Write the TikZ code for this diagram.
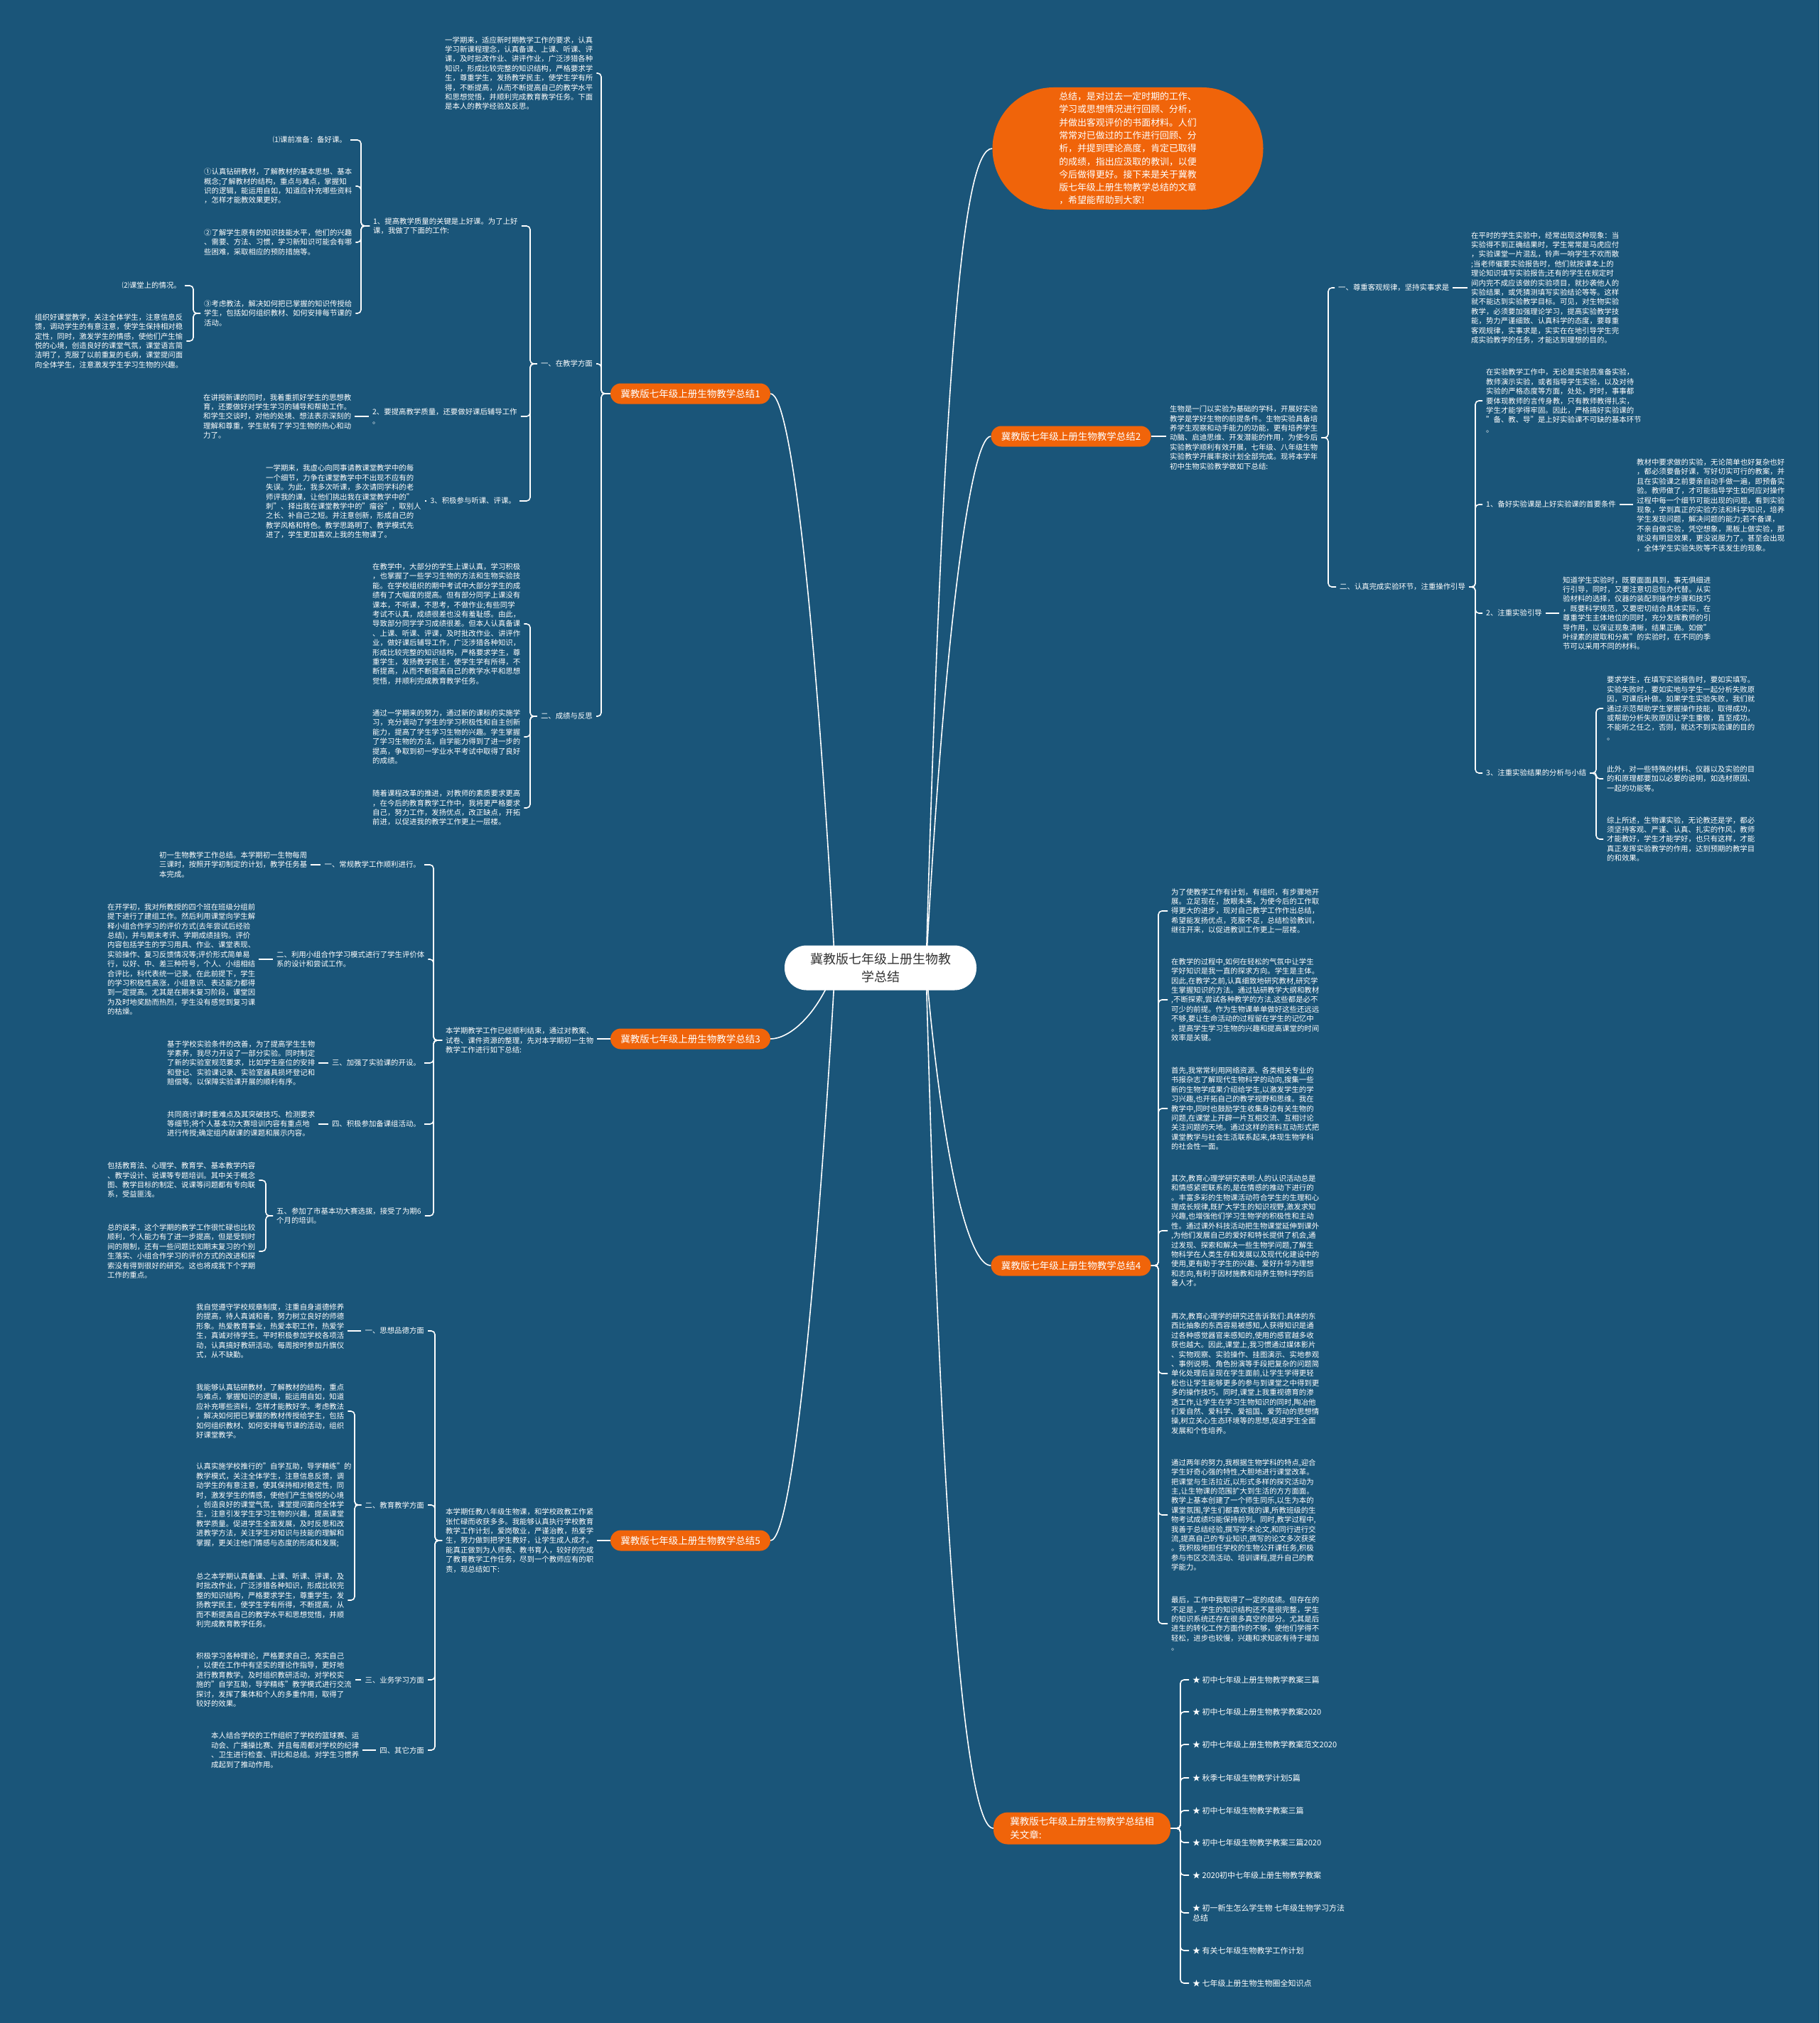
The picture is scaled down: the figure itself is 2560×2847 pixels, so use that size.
\documentclass[tikz,border=0pt]{standalone}
\usepackage{fontspec}
\setmainfont{Noto Sans CJK SC}
\pgfdeclarelayer{back}
\pgfdeclarelayer{edges}
\pgfsetlayers{back,edges,main}
\definecolor{bgblue}{HTML}{1A5579}
\definecolor{org}{HTML}{F0640A}
\definecolor{ctext}{HTML}{333333}
\newcommand{\mmL}[3]{\draw[conn] (#1.west) -| (#2 |- #3.east) -- (#3.east);}
\newcommand{\mmR}[3]{\draw[conn] (#1.east) -| (#2 |- #3.west) -- (#3.west);}
\newcommand{\mmLs}[2]{\draw[conn] (#1.west) -- (#1.west -| #2.east);}
\newcommand{\mmRs}[2]{\draw[conn] (#1.east) -- (#1.east -| #2.west);}
\tikzset{
  conn/.style={draw=white, line width=1.6pt, rounded corners=5pt},
  txt/.style={text=white, font=\fontsize{10.4}{13.4}\selectfont, align=left, inner xsep=5pt, inner ysep=2pt},
  itm/.style={text=white, font=\fontsize{11}{14}\selectfont, align=left, inner xsep=5pt, inner ysep=2pt, anchor=west},
  onode/.style={fill=org, text=white, rounded corners=14.5pt, minimum width=225pt, minimum height=29pt, font=\fontsize{13.5}{17}\selectfont, inner sep=0pt},
  cnode/.style={fill=white, text=ctext, rounded corners=31pt, minimum width=270pt, minimum height=63pt, font=\fontsize{18}{25}\selectfont, align=center, inner sep=0pt},
  bubble/.style={fill=org, text=white, rounded corners=86pt, minimum width=381pt, minimum height=172pt, font=\fontsize{12.9}{18.3}\selectfont, align=left, inner sep=0pt},
}
\begin{document}
\begin{tikzpicture}[x=1pt,y=-1pt]
\begin{pgfonlayer}{back}
\fill[bgblue] (0,0) rectangle (2560,2847);
\end{pgfonlayer}
\useasboundingbox (0,0) rectangle (2560,2847);

% ---------- centre and main nodes
\node[cnode] (c) at (1239,1362) {冀教版七年级上册生物教\\学总结};
\coordinate (cl) at (1175,1362);
\coordinate (cr) at (1303,1362);
\node[bubble] (intro) at (1587,209) {总结，是对过去一定时期的工作、\\学习或思想情况进行回顾、分析，\\并做出客观评价的书面材料。人们\\常常对已做过的工作进行回顾、分\\析，并提到理论高度，肯定已取得\\的成绩，指出应汲取的教训，以便\\今后做得更好。接下来是关于冀教\\版七年级上册生物教学总结的文章\\，希望能帮助到大家!};
\node[onode] (n1) at (971.5,554) {冀教版七年级上册生物教学总结1};
\node[onode] (n2) at (1507,614) {冀教版七年级上册生物教学总结2};
\node[onode] (n3) at (971.5,1462) {冀教版七年级上册生物教学总结3};
\node[onode] (n4) at (1507,1781) {冀教版七年级上册生物教学总结4};
\node[onode] (n5) at (971.5,2168) {冀教版七年级上册生物教学总结5};
\node[onode, minimum width=249pt, minimum height=45pt, rounded corners=20pt, align=left, font=\fontsize{13.5}{19}\selectfont] (rel) at (1522.5,2573) {冀教版七年级上册生物教学总结相\\关文章:};

% ---------- branch 1
\node[txt, anchor=west] (pTop) at (621,103) {一学期来，适应新时期教学工作的要求，认真\\学习新课程理念，认真备课、上课、听课、评\\课，及时批改作业、讲评作业，广泛涉猎各种\\知识，形成比较完整的知识结构，严格要求学\\生，尊重学生，发扬教学民主，使学生学有所\\得，不断提高，从而不断提高自己的教学水平\\和思想觉悟，并顺利完成教育教学任务。下面\\是本人的教学经验及反思。};
\node[txt, anchor=east] (l1a) at (839,512) {一、在教学方面};
\node[txt, anchor=west] (l1b) at (520,318) {1、提高教学质量的关键是上好课。为了上好\\课，我做了下面的工作:};
\node[txt, anchor=east] (l1c) at (493,197) {⑴课前准备：备好课。};
\node[txt, anchor=west] (p1d) at (282,262) {①认真钻研教材，了解教材的基本思想、基本\\概念;了解教材的结构，重点与难点，掌握知\\识的逻辑，能运用自如，知道应补充哪些资料\\，怎样才能教效果更好。};
\node[txt, anchor=west] (p1e) at (282,341) {②了解学生原有的知识技能水平，他们的兴趣\\、需要、方法、习惯，学习新知识可能会有哪\\些困难，采取相应的预防措施等。};
\node[txt, anchor=west] (p1f) at (282,441) {③考虑教法，解决如何把已掌握的知识传授给\\学生，包括如何组织教材、如何安排每节课的\\活动。};
\node[txt, anchor=east] (l1g) at (260,402) {⑵课堂上的情况。};
\node[txt, anchor=west] (p1h) at (44,480) {组织好课堂教学，关注全体学生，注意信息反\\馈，调动学生的有意注意，使学生保持相对稳\\定性，同时，激发学生的情感，使他们产生愉\\悦的心境，创造良好的课堂气氛，课堂语言简\\洁明了，克服了以前重复的毛病，课堂提问面\\向全体学生，注意激发学生学习生物的兴趣。};
\node[txt, anchor=west] (l1i) at (519,586) {2、要提高教学质量，还要做好课后辅导工作\\。};
\node[txt, anchor=west] (p1j) at (281,586) {在讲授新课的同时，我着重抓好学生的思想教\\育，还要做好对学生学习的辅导和帮助工作。\\和学生交谈时，对他的处境、想法表示深刻的\\理解和尊重，学生就有了学习生物的热心和动\\力了。};
\node[txt, anchor=east] (l1k) at (731,705) {3、积极参与听课、评课。};
\node[txt, anchor=west] (p1l) at (369,706) {一学期来，我虚心向同事请教课堂教学中的每\\一个细节，力争在课堂教学中不出现不应有的\\失误。为此，我多次听课，多次请同学科的老\\师评我的课，让他们挑出我在课堂教学中的"\\刺"、择出我在课堂教学中的"瘤谷"，取别人\\之长、补自己之短。并注意创新，形成自己的\\教学风格和特色。教学思路明了、教学模式先\\进了，学生更加喜欢上我的生物课了。};
\node[txt, anchor=east] (l1m) at (839,1008) {二、成绩与反思};
\node[txt, anchor=west] (p1n) at (519,878) {在教学中，大部分的学生上课认真，学习积极\\，也掌握了一些学习生物的方法和生物实验技\\能。在学校组织的期中考试中大部分学生的成\\绩有了大幅度的提高。但有部分同学上课没有\\课本，不听课，不思考，不做作业;有些同学\\考试不认真，成绩很差也没有羞耻感。由此，\\导致部分同学学习成绩很差。但本人认真备课\\、上课、听课、评课，及时批改作业、讲评作\\业，做好课后辅导工作，广泛涉猎各种知识，\\形成比较完整的知识结构，严格要求学生，尊\\重学生，发扬教学民主，使学生学有所得，不\\断提高，从而不断提高自己的教学水平和思想\\觉悟，并顺利完成教育教学任务。};
\node[txt, anchor=west] (p1o) at (519,1037) {通过一学期来的努力，通过新的课标的实施学\\习，充分调动了学生的学习积极性和自主创新\\能力，提高了学生学习生物的兴趣。学生掌握\\了学习生物的方法，自学能力得到了进一步的\\提高，争取到初一学业水平考试中取得了良好\\的成绩。};
\node[txt, anchor=west] (p1p) at (519,1137) {随着课程改革的推进，对教师的素质要求更高\\，在今后的教育教学工作中，我将更严格要求\\自己，努力工作，发扬优点，改正缺点，开拓\\前进，以促进我的教学工作更上一层楼。};

% ---------- branch 3
\node[txt, anchor=west] (p3r) at (622,1464) {本学期教学工作已经顺利结束，通过对教案、\\试卷、课件资源的整理，先对本学期初一生物\\教学工作进行如下总结:};
\node[txt, anchor=east] (l3a) at (597,1217) {一、常规教学工作顺利进行。};
\node[txt, anchor=west] (p3a) at (219,1217) {初一生物教学工作总结。本学期初一生物每周\\三课时，按照开学初制定的计划，教学任务基\\本完成。};
\node[txt, anchor=west] (l3b) at (384,1350) {二、利用小组合作学习模式进行了学生评价体\\系的设计和尝试工作。};
\node[txt, anchor=west] (p3b) at (146,1350) {在开学初，我对所教授的四个班在班级分组前\\提下进行了建组工作。然后利用课堂向学生解\\释小组合作学习的评价方式(去年尝试后经验\\总结)，并与期末考评、学期成绩挂钩。评价\\内容包括学生的学习用具、作业、课堂表现、\\实验操作、复习反馈情况等;评价形式简单易\\行，以好、中、差三种符号，个人、小组相结\\合评比，科代表统一记录。在此前提下，学生\\的学习积极性高涨，小组意识、表达能力都得\\到一定提高。尤其是在期末复习阶段，课堂因\\为及时地奖励而热烈，学生没有感觉到复习课\\的枯燥。};
\node[txt, anchor=east] (l3c) at (597,1496) {三、加强了实验课的开设。};
\node[txt, anchor=west] (p3c) at (230,1496) {基于学校实验条件的改善，为了提高学生生物\\学素养，我尽力开设了一部分实验。同时制定\\了新的实验室规范要求，比如学生座位的安排\\和登记、实验课记录、实验室器具损坏登记和\\赔偿等。以保障实验课开展的顺利有序。};
\node[txt, anchor=east] (l3d) at (597,1582) {四、积极参加备课组活动。};
\node[txt, anchor=west] (p3d) at (230,1582) {共同商讨课时重难点及其突破技巧、检测要求\\等细节;将个人基本功大赛培训内容有重点地\\进行传授;确定组内献课的课题和展示内容。};
\node[txt, anchor=west] (l3e) at (384,1711) {五、参加了市基本功大赛选拔，接受了为期6\\个月的培训。};
\node[txt, anchor=west] (p3e) at (146,1661) {包括教育法、心理学、教育学、基本教学内容\\、教学设计、说课等专题培训。其中关于概念\\图、教学目标的制定、说课等问题都有专向联\\系，受益匪浅。};
\node[txt, anchor=west] (p3f) at (146,1761) {总的说来，这个学期的教学工作很忙碌也比较\\顺利，个人能力有了进一步提高，但是受到时\\间的限制，还有一些问题比如期末复习的个别\\生落实、小组合作学习的评价方式的改进和探\\索没有得到很好的研究。这也将成我下个学期\\工作的重点。};

% ---------- branch 5
\node[txt, anchor=west] (p5r) at (622,2168) {本学期任教八年级生物课，和学校政教工作紧\\张忙碌而收获多多。我能够认真执行学校教育\\教学工作计划，爱岗敬业，严谨治教，热爱学\\生，努力做到把学生教好，让学生成人成才。\\能真正做到为人师表、教书育人，较好的完成\\了教育教学工作任务，尽到一个教师应有的职\\责，现总结如下:};
\node[txt, anchor=east] (l5a) at (602,1873) {一、思想品德方面};
\node[txt, anchor=west] (p5a) at (271,1873) {我自觉遵守学校规章制度，注重自身道德修养\\的提高，待人真诚和善，努力树立良好的师德\\形象。热爱教育事业，热爱本职工作，热爱学\\生，真诚对待学生。平时积极参加学校各项活\\动，认真搞好教研活动。每周按时参加升旗仪\\式，从不缺勤。};
\node[txt, anchor=east] (l5b) at (602,2118) {二、教育教学方面};
\node[txt, anchor=west] (p5b1) at (271,1986) {我能够认真钻研教材，了解教材的结构，重点\\与难点，掌握知识的逻辑，能运用自如，知道\\应补充哪些资料，怎样才能教好学。考虑教法\\，解决如何把已掌握的教材传授给学生，包括\\如何组织教材、如何安排每节课的活动，组织\\好课堂教学。};
\node[txt, anchor=west] (p5b2) at (271,2118) {认真实施学校推行的"自学互助，导学精练"的\\教学模式，关注全体学生，注意信息反馈，调\\动学生的有意注意，使其保持相对稳定性，同\\时，激发学生的情感，使他们产生愉悦的心境\\，创造良好的课堂气氛，课堂提问面向全体学\\生，注意引发学生学习生物的兴趣，提高课堂\\教学质量。促进学生全面发展，及时反思和改\\进教学方法，关注学生对知识与技能的理解和\\掌握，更关注他们情感与态度的形成和发展;};
\node[txt, anchor=west] (p5b3) at (271,2252) {总之本学期认真备课、上课、听课、评课，及\\时批改作业，广泛涉猎各种知识，形成比较完\\整的知识结构，严格要求学生，尊重学生，发\\扬教学民主，使学生学有所得，不断提高，从\\而不断提高自己的教学水平和思想觉悟，并顺\\利完成教育教学任务。};
\node[txt, anchor=east] (l5c) at (602,2364) {三、业务学习方面};
\node[txt, anchor=west] (p5c) at (271,2364) {积极学习各种理论，严格要求自己，充实自己\\，以便在工作中有坚实的理论作指导，更好地\\进行教育教学。及时组织教研活动，对学校实\\施的"自学互助，导学精练"教学模式进行交流\\探讨，发挥了集体和个人的多重作用，取得了\\较好的效果。};
\node[txt, anchor=east] (l5d) at (602,2463) {四、其它方面};
\node[txt, anchor=west] (p5d) at (292,2463) {本人结合学校的工作组织了学校的篮球赛、运\\动会、广播操比赛、并且每周都对学校的纪律\\、卫生进行检查、评比和总结。对学生习惯养\\成起到了推动作用。};

% ---------- branch 2
\node[txt, anchor=west] (p2r) at (1641,616) {生物是一门以实验为基础的学科，开展好实验\\教学是学好生物的前提条件。生物实验具备培\\养学生观察和动手能力的功能，更有培养学生\\动脑、启迪思维、开发潜能的作用，为使今后\\实验教学顺利有效开展，七年级、八年级生物\\实验教学开展率按计划全部完成。现将本学年\\初中生物实验教学做如下总结:};
\node[txt, anchor=west] (l2a) at (1878,405) {一、尊重客观规律，坚持实事求是};
\node[txt, anchor=west] (p2a) at (2065,405) {在平时的学生实验中，经常出现这种现象：当\\实验得不到正确结果时，学生常常是马虎应付\\，实验课堂一片混乱，铃声一响学生不欢而散\\;当老师催要实验报告时，他们就按课本上的\\理论知识填写实验报告;还有的学生在规定时\\间内完不成应该做的实验项目，就抄袭他人的\\实验结果，或凭猜测填写实验结论等等。这样\\就不能达到实验教学目标。可见，对生物实验\\教学，必须要加强理论学习，提高实验教学技\\能，势力严谨细致、认真科学的态度，要尊重\\客观规律，实事求是，实实在在地引导学生完\\成实验教学的任务，才能达到理想的目的。};
\node[txt, anchor=west] (l2b) at (1880,826) {二、认真完成实验环节，注重操作引导};
\node[txt, anchor=west] (p2b) at (2086,564) {在实验教学工作中，无论是实验员准备实验，\\教师演示实验，或者指导学生实验，以及对待\\实验的严格态度等方面，处处，时时，事事都\\要体现教师的言传身教，只有教师教得扎实，\\学生才能学得牢固。因此，严格搞好实验课的\\"备、教、导"是上好实验课不可缺的基本环节\\。};
\node[txt, anchor=west] (l2c) at (2086,710) {1、备好实验课是上好实验课的首要条件};
\node[txt, anchor=west] (p2c) at (2298,711) {教材中要求做的实验，无论简单也好复杂也好\\，都必须要备好课，写好切实可行的教案，并\\且在实验课之前要亲自动手做一遍，即预备实\\验。教师做了，才可能指导学生如何应对操作\\过程中每一个细节可能出现的问题，看到实验\\现象，学到真正的实验方法和科学知识，培养\\学生发现问题，解决问题的能力;若不备课，\\不亲自做实验，凭空想象，黑板上做实验，那\\就没有明显效果，更没说服力了。甚至会出现\\，全体学生实验失败等不该发生的现象。};
\node[txt, anchor=west] (l2d) at (2086,863) {2、注重实验引导};
\node[txt, anchor=west] (p2d) at (2194,863) {知道学生实验时，既要面面具到，事无俱细进\\行引导，同时，又要注意切忌包办代替。从实\\验材料的选择，仪器的装配到操作步骤和技巧\\，既要科学规范，又要密切结合具体实际，在\\尊重学生主体地位的同时，充分发挥教师的引\\导作用，以保证现象清晰，结果正确。如做"\\叶绿素的提取和分离"的实验时，在不同的季\\节可以采用不同的材料。};
\node[txt, anchor=west] (l2e) at (2086,1088) {3、注重实验结果的分析与小结};
\node[txt, anchor=west] (p2e1) at (2256,997) {要求学生，在填写实验报告时，要如实填写。\\实验失败时，要如实地与学生一起分析失败原\\因，可课后补做。如果学生实验失败，我们就\\通过示范帮助学生掌握操作技能，取得成功，\\或帮助分析失败原因让学生重做，直至成功。\\不能听之任之，否则，就达不到实验课的目的\\。};
\node[txt, anchor=west] (p2e2) at (2256,1096) {此外，对一些特殊的材料、仪器以及实验的目\\的和原理都要加以必要的说明，如选材原因、\\一起的功能等。};
\node[txt, anchor=west] (p2e3) at (2256,1181) {综上所述，生物课实验，无论教还是学，都必\\须坚持客观、严谨、认真、扎实的作风，教师\\才能教好，学生才能学好，也只有这样，才能\\真正发挥实验教学的作用，达到预期的教学目\\的和效果。};

% ---------- branch 4
\node[txt, anchor=west] (p4a) at (1643,1282) {为了使教学工作有计划，有组织，有步骤地开\\展。立足现在，放眼未来，为使今后的工作取\\得更大的进步，现对自己教学工作作出总结，\\希望能发扬优点，克服不足，总结检验教训，\\继往开来，以促进教训工作更上一层楼。};
\node[txt, anchor=west] (p4b) at (1643,1407) {在教学的过程中,如何在轻松的气氛中让学生\\学好知识是我一直的探求方向。学生是主体。\\因此,在教学之前,认真细致地研究教材,研究学\\生掌握知识的方法。通过钻研教学大纲和教材\\,不断探索,尝试各种教学的方法,这些都是必不\\可少的前提。作为生物课单单做好这些还远远\\不够,要让生命活动的过程留在学生的记忆中\\。提高学生学习生物的兴趣和提高课堂的时间\\效率是关键。};
\node[txt, anchor=west] (p4c) at (1643,1560) {首先,我常常利用网络资源、各类相关专业的\\书报杂志了解现代生物科学的动向,搜集一些\\新的生物学成果介绍给学生,以激发学生的学\\习兴趣,也开拓自己的教学视野和思维。我在\\教学中,同时也鼓励学生收集身边有关生物的\\问题,在课堂上开辟一片互相交流、互相讨论\\关注问题的天地。通过这样的资料互动形式把\\课堂教学与社会生活联系起来,体现生物学科\\的社会性一面。};
\node[txt, anchor=west] (p4d) at (1643,1732) {其次,教育心理学研究表明:人的认识活动总是\\和情感紧密联系的,是在情感的推动下进行的\\。丰富多彩的生物课活动符合学生的生理和心\\理成长规律,既扩大学生的知识视野,激发求知\\兴趣,也增强他们学习生物学的积极性和主动\\性。通过课外科技活动把生物课堂延伸到课外\\,为他们发展自己的爱好和特长提供了机会,通\\过发现、探索和解决一些生物学问题,了解生\\物科学在人类生存和发展以及现代化建设中的\\使用,更有助于学生的兴趣、爱好升华为理想\\和志向,有利于因材施教和培养生物科学的后\\备人才。};
\node[txt, anchor=west] (p4e) at (1643,1933) {再次,教育心理学的研究还告诉我们:具体的东\\西比抽象的东西容易被感知,人获得知识是通\\过各种感觉器官来感知的,使用的感官越多收\\获也越大。因此,课堂上,我习惯通过媒体影片\\、实物观察、实验操作、挂图演示、实地参观\\、事例说明、角色扮演等手段把复杂的问题简\\单化处理后呈现在学生面前,让学生学得更轻\\松也让学生能够更多的参与到课堂之中得到更\\多的操作技巧。同时,课堂上我重视德育的渗\\透工作,让学生在学习生物知识的同时,陶冶他\\们爱自然、爱科学、爱祖国、爱劳动的思想情\\操,树立关心生态环境等的思想,促进学生全面\\发展和个性培养。};
\node[txt, anchor=west] (p4f) at (1643,2132) {通过两年的努力,我根据生物学科的特点,迎合\\学生好奇心强的特性,大胆地进行课堂改革。\\把课堂与生活拉近,以形式多样的探究活动为\\主,让生物课的范围扩大到生活的方方面面。\\教学上基本创建了一个师生同乐,以生为本的\\课堂氛围,学生们都喜欢我的课,所教班级的生\\物考试成绩均能保持前列。同时,教学过程中,\\我善于总结经验,撰写学术论文,和同行进行交\\流,提高自己的专业知识,撰写的论文多次获奖\\。我积极地担任学校的生物公开课任务,积极\\参与市区交流活动、培训课程,提升自己的教\\学能力。};
\node[txt, anchor=west] (p4g) at (1643,2285) {最后，工作中我取得了一定的成绩。但存在的\\不足是，学生的知识结构还不是很完整，学生\\的知识系统还存在很多真空的部分。尤其是后\\进生的转化工作方面作的不够，使他们学得不\\轻松，进步也较慢，兴趣和求知欲有待于增加\\。};

% ---------- related articles
\node[itm] (r1) at (1673,2364) {★ 初中七年级上册生物教学教案三篇};
\node[itm] (r2) at (1673,2409) {★ 初中七年级上册生物教学教案2020};
\node[itm] (r3) at (1673,2455) {★ 初中七年级上册生物教学教案范文2020};
\node[itm] (r4) at (1673,2502) {★ 秋季七年级生物教学计划5篇};
\node[itm] (r5) at (1673,2548) {★ 初中七年级生物教学教案三篇};
\node[itm] (r6) at (1673,2593) {★ 初中七年级生物教学教案三篇2020};
\node[itm] (r7) at (1673,2639) {★ 2020初中七年级上册生物教学教案};
\node[itm] (r8) at (1673,2692) {★ 初一新生怎么学生物 七年级生物学习方法\\总结};
\node[itm] (r9) at (1673,2745) {★ 有关七年级生物教学工作计划};
\node[itm] (r10) at (1673,2791) {★ 七年级上册生物生物圈全知识点};

% ---------- bracket x positions
\coordinate (b1) at (846,0);
\coordinate (b1a) at (746,0);
\coordinate (b1b) at (508,0);
\coordinate (b1c) at (272,0);
\coordinate (b3) at (610,0);
\coordinate (b3e) at (374,0);
\coordinate (b5) at (612,0);
\coordinate (b5b) at (499,0);
\coordinate (b2) at (1869,0);
\coordinate (b2b) at (2076,0);
\coordinate (b2e) at (2246,0);
\coordinate (b4) at (1630,0);
\coordinate (br) at (1661,0);

\begin{pgfonlayer}{edges}
% centre curves
\draw[conn] (cl) .. controls (1150,900) and (1115,554) .. (n1.east);
\draw[conn] (cl) .. controls (1150,1430) and (1110,1462) .. (n3.east);
\draw[conn] (cl) .. controls (1150,1800) and (1115,2168) .. (n5.east);
\draw[conn] (cr) .. controls (1328,500) and (1355,209) .. (intro.west);
\draw[conn] (cr) .. controls (1328,900) and (1365,614) .. (n2.west);
\draw[conn] (cr) .. controls (1328,1650) and (1365,1781) .. (n4.west);
\draw[conn] (cr) .. controls (1328,2300) and (1365,2573) .. (rel.west);
% branch 1
\mmL{n1}{b1}{pTop}
\mmL{n1}{b1}{l1a}
\mmL{n1}{b1}{l1m}
\mmL{l1a}{b1a}{l1b}
\mmL{l1a}{b1a}{l1i}
\mmL{l1a}{b1a}{l1k}
\mmL{l1b}{b1b}{l1c}
\mmL{l1b}{b1b}{p1d}
\mmL{l1b}{b1b}{p1e}
\mmL{l1b}{b1b}{p1f}
\mmL{p1f}{b1c}{l1g}
\mmL{p1f}{b1c}{p1h}
\mmLs{l1i}{p1j}
\mmLs{l1k}{p1l}
\mmL{l1m}{b1a}{p1n}
\mmL{l1m}{b1a}{p1o}
\mmL{l1m}{b1a}{p1p}
% branch 3
\mmLs{n3}{p3r}
\mmL{p3r}{b3}{l3a}
\mmL{p3r}{b3}{l3b}
\mmL{p3r}{b3}{l3c}
\mmL{p3r}{b3}{l3d}
\mmL{p3r}{b3}{l3e}
\mmLs{l3a}{p3a}
\mmLs{l3b}{p3b}
\mmLs{l3c}{p3c}
\mmLs{l3d}{p3d}
\mmL{l3e}{b3e}{p3e}
\mmL{l3e}{b3e}{p3f}
% branch 5
\mmLs{n5}{p5r}
\mmL{p5r}{b5}{l5a}
\mmL{p5r}{b5}{l5b}
\mmL{p5r}{b5}{l5c}
\mmL{p5r}{b5}{l5d}
\mmLs{l5a}{p5a}
\mmL{l5b}{b5b}{p5b1}
\mmL{l5b}{b5b}{p5b2}
\mmL{l5b}{b5b}{p5b3}
\mmLs{l5c}{p5c}
\mmLs{l5d}{p5d}
% branch 2
\mmRs{n2}{p2r}
\mmR{p2r}{b2}{l2a}
\mmR{p2r}{b2}{l2b}
\mmRs{l2a}{p2a}
\mmR{l2b}{b2b}{p2b}
\mmR{l2b}{b2b}{l2c}
\mmR{l2b}{b2b}{l2d}
\mmR{l2b}{b2b}{l2e}
\mmRs{l2c}{p2c}
\mmRs{l2d}{p2d}
\mmR{l2e}{b2e}{p2e1}
\mmR{l2e}{b2e}{p2e2}
\mmR{l2e}{b2e}{p2e3}
% branch 4
\mmR{n4}{b4}{p4a}
\mmR{n4}{b4}{p4b}
\mmR{n4}{b4}{p4c}
\mmR{n4}{b4}{p4d}
\mmR{n4}{b4}{p4e}
\mmR{n4}{b4}{p4f}
\mmR{n4}{b4}{p4g}
% related
\mmR{rel}{br}{r1}
\mmR{rel}{br}{r2}
\mmR{rel}{br}{r3}
\mmR{rel}{br}{r4}
\mmR{rel}{br}{r5}
\mmR{rel}{br}{r6}
\mmR{rel}{br}{r7}
\mmR{rel}{br}{r8}
\mmR{rel}{br}{r9}
\mmR{rel}{br}{r10}
\end{pgfonlayer}
\end{tikzpicture}
\end{document}
